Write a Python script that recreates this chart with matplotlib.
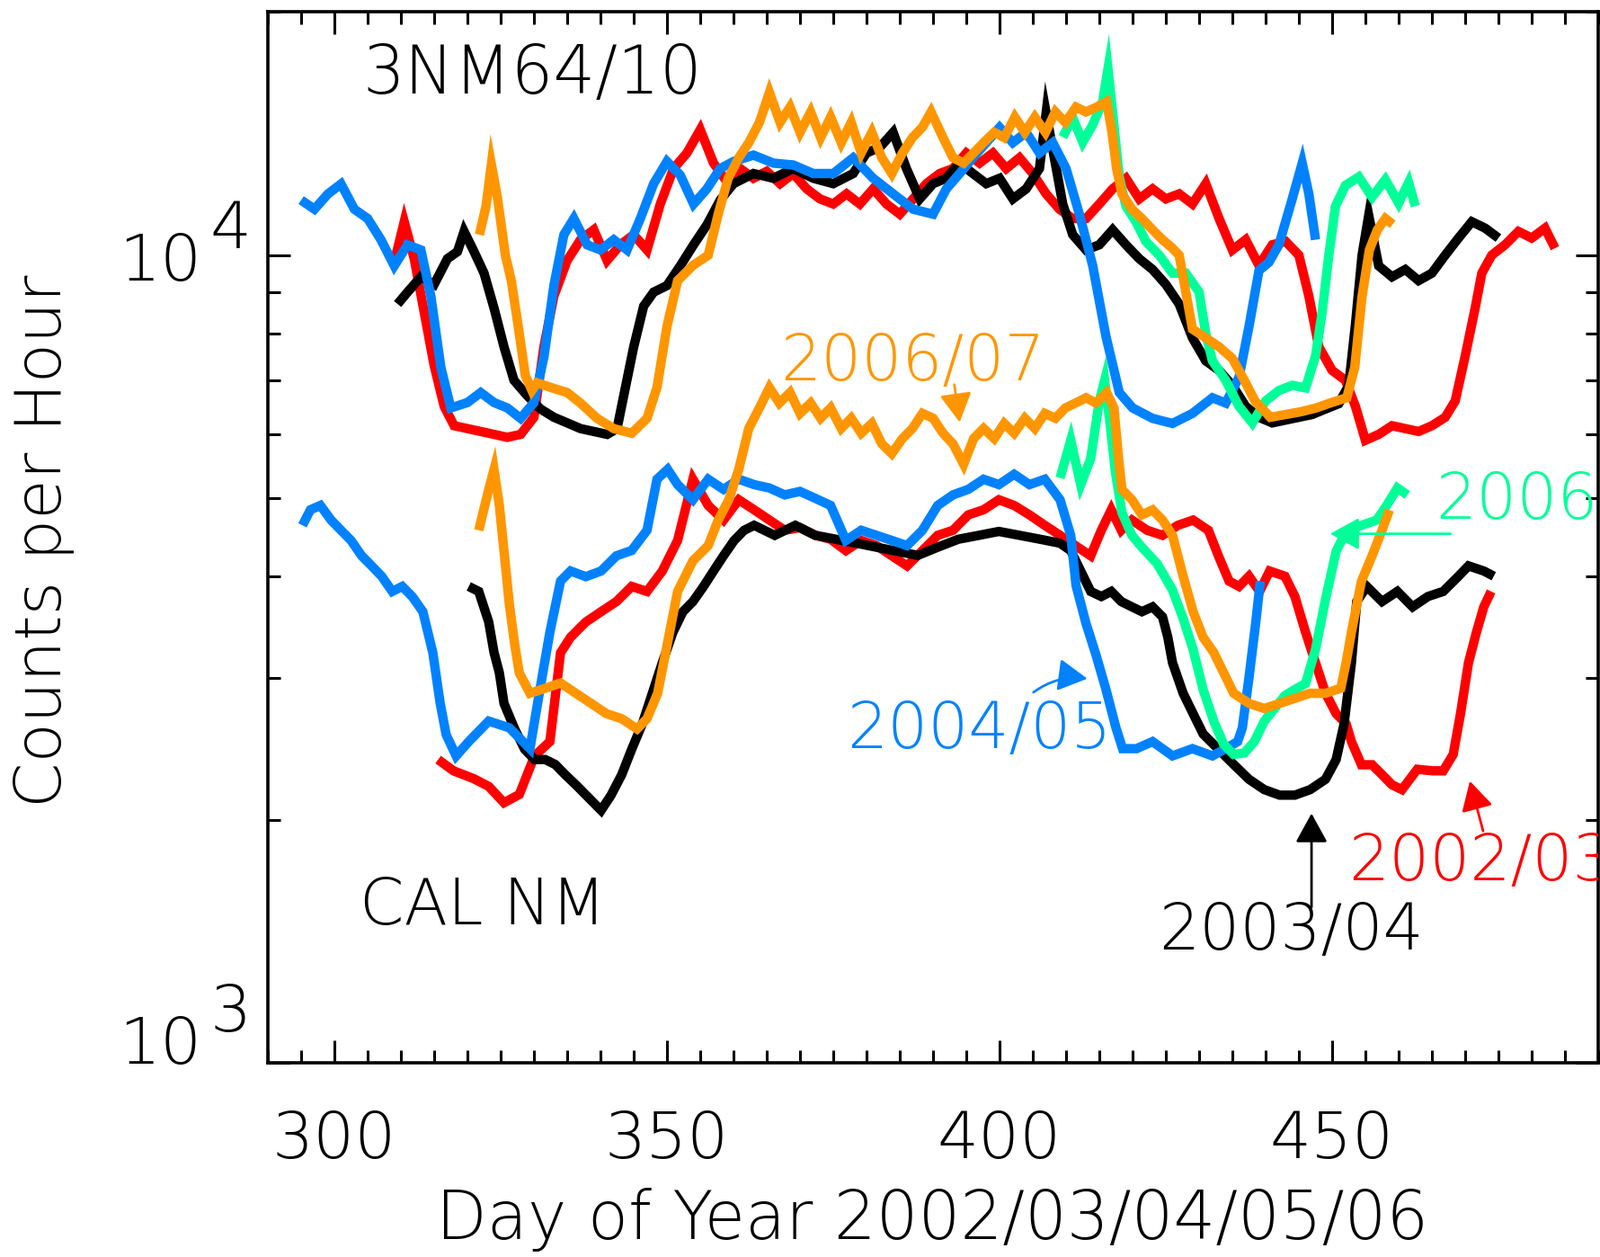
import matplotlib
matplotlib.use("Agg")
import matplotlib.pyplot as plt
from matplotlib.ticker import MultipleLocator, NullFormatter, FixedLocator, LogLocator

# ---------------- data (day of year, counts per hour) ----------------
# 3NM64/10 (upper traces)
day_nm_0203 = [309, 310.5, 312, 313.5, 315, 316.5, 318, 320, 322, 324,
               326, 328, 330, 331.5, 333, 335, 337, 339, 341, 343,
               345, 347, 349, 351, 353, 355, 357, 359, 361, 363,
               365, 367, 369, 371, 373, 375, 377, 379, 381, 383,
               385, 387, 389, 391, 393, 395, 397, 399, 401, 403,
               405, 407, 409, 411, 413, 415, 417, 419, 421, 423,
               425, 427, 429, 431, 433, 435, 437, 439, 441, 443,
               445, 446.5, 448, 450, 452, 453.5, 455, 457, 459, 461,
               463, 465, 467, 468.5, 470, 471.5, 472.5, 474, 476, 478,
               480, 482, 483.5]
cnt_nm_0203 = [9800, 11000, 9900, 8500, 7300, 6500, 6150, 6100, 6050, 6000,
               5950, 6000, 6300, 7700, 8900, 9850, 10450, 10750, 9850, 10300,
               10600, 10150, 11570, 12800, 13380, 14300, 13000, 12330, 12800, 12450,
               12700, 12260, 12620, 12080, 11740, 11570, 11910, 11570, 12080, 11570,
               11240, 11740, 12260, 12620, 12800, 13380, 13000, 13380, 12800, 13200,
               12620, 11910, 11400, 11100, 11100, 11570, 12080, 12450, 11740, 12080,
               11740, 11910, 11570, 12260, 11100, 10150, 10450, 9710, 10300, 10400,
               10000, 8900, 7700, 7200, 7000, 6500, 5900, 6000, 6150, 6100,
               6050, 6150, 6300, 6600, 7500, 8600, 9500, 10000, 10300, 10700,
               10500, 10800, 10200]

day_nm_0304 = [309.5, 311, 313, 315, 317, 318.5, 319.5, 321, 322.5, 324,
               325.5, 327, 329, 331, 333, 335, 337, 339, 341, 342.5,
               343.5, 345, 346.5, 348, 350, 352, 354, 356, 358, 360,
               363, 366, 369, 372, 375, 378, 380, 382, 384, 386,
               388, 390, 392, 394, 396, 398, 400, 402, 404, 406,
               407, 409.5, 411, 413, 415, 417, 419, 421, 423, 425,
               427, 429, 431, 433, 435, 437, 439, 441, 443, 445,
               447, 449, 451, 452.5, 453.5, 454.5, 455.5, 457, 459, 461,
               463, 465, 467, 469, 471, 473, 475]
cnt_nm_0304 = [8700, 9000, 9400, 9200, 9900, 10100, 10700, 10100, 9500, 8600,
               7700, 7000, 6700, 6450, 6300, 6200, 6100, 6050, 6000, 6100,
               6700, 7700, 8650, 9000, 9170, 9700, 10300, 10900, 11700, 12260,
               12620, 12450, 12800, 12450, 12260, 12620, 13380, 13600, 14190, 12800,
               11740, 12260, 12450, 13000, 12620, 12260, 12450, 11740, 12080, 12800,
               15000, 11570, 10600, 10150, 10300, 10750, 10300, 9900, 9600, 9200,
               8700, 7900, 7400, 7200, 6900, 6500, 6300, 6200, 6250, 6300,
               6350, 6450, 6550, 6900, 8200, 10000, 11200, 9700, 9400, 9600,
               9300, 9500, 10000, 10500, 11000, 10800, 10500]

day_nm_0405 = [295, 297, 299, 301, 303, 305, 307, 309, 311, 313,
               314.5, 316, 317.5, 320, 322, 324, 326, 328, 330, 331.5,
               333, 334.5, 336, 338, 340, 342, 344, 346, 348, 350,
               352, 354, 356, 358, 360, 363, 366, 369, 372, 375,
               378, 381, 384, 387, 390, 392, 394, 396, 398, 400,
               402, 404, 406, 408, 410, 412, 414, 416, 418, 420,
               423, 426, 429, 432, 434, 436, 437.5, 439, 440.5, 442,
               444, 445.5, 446.5, 447.5]
cnt_nm_0405 = [11700, 11400, 11900, 12250, 11400, 11100, 10450, 9700, 10300, 10150,
               8900, 7270, 6470, 6570, 6760, 6570, 6470, 6280, 6570, 7480,
               9170, 10600, 11100, 10300, 10150, 10450, 10150, 11100, 12260, 13060,
               12560, 11570, 12080, 12800, 13060, 13300, 13000, 12930, 12620, 12620,
               13200, 12450, 11910, 11400, 11240, 12080, 12620, 13200, 13780, 14390,
               13780, 14190, 13380, 13780, 12800, 11240, 9710, 7930, 6760, 6470,
               6280, 6190, 6370, 6660, 6560, 7060, 8160, 9570, 9800, 10300,
               11740, 13000, 11910, 10450]

day_nm_2006 = [409.5, 411, 412.5, 414, 415.5, 416.3, 417, 418, 419, 420.5,
               422, 424, 426, 428, 430, 431, 432, 434, 436, 438,
               440, 442, 444, 446, 447.5, 448.5, 449.5, 450.5, 452, 454,
               456, 458, 460, 461.5, 462.5]
cnt_nm_2006 = [14000, 14800, 13800, 14500, 15500, 17000, 15000, 12500, 11500, 11000,
               10400, 10000, 9500, 9500, 9000, 8000, 7400, 7000, 6500, 6200,
               6600, 6800, 6900, 6850, 7500, 8500, 10000, 11500, 12200, 12500,
               11800, 12400, 11600, 12300, 11500]

day_nm_0607 = [321.8, 322.8, 323.6, 324.5, 325.7, 326.6, 327.7, 328.7, 329.7, 330.5,
               332.5, 335, 337, 339.5, 342, 344.7, 347, 348.5, 350, 351.6,
               353.9, 356.2, 357.7, 359.2, 360.8, 362.3, 363.9, 365.4, 367, 368.5,
               370, 371.6, 373.1, 374.6, 376.2, 377.7, 379.2, 380.8, 382.3, 383.8,
               385.4, 386.9, 388.4, 389.7, 391.5, 393, 394.6, 396.1, 397.6, 399.2,
               400.7, 402.3, 403.8, 405.3, 406.9, 408.4, 409.9, 411.5, 413, 414.6,
               416.1, 416.9, 417.6, 418.4, 419.9, 421.4, 423, 424.5, 426, 427,
               428, 429, 431, 433, 435, 436.8, 438.4, 440.7, 443, 445.3,
               447.6, 449.9, 452.2, 453.4, 454.5, 455.6, 456.8, 458, 459.1]
cnt_nm_0607 = [10600, 11500, 12950, 11800, 10000, 9300, 8100, 7100, 6800, 6950,
               6860, 6760, 6560, 6280, 6100, 6020, 6280, 6860, 8160, 9300,
               9710, 10000, 11240, 12450, 13200, 13780, 14600, 15900, 14600, 15250,
               14190, 15040, 13980, 14820, 13780, 14600, 13380, 14190, 13200, 12620,
               13380, 13980, 14400, 15040, 13980, 13200, 13000, 13380, 13780, 14190,
               13980, 14820, 14190, 14820, 14190, 15040, 14600, 15250, 15040, 15250,
               15490, 14190, 12800, 11910, 11400, 11100, 10750, 10450, 10200, 10000,
               9000, 8100, 7900, 7700, 7450, 7000, 6600, 6300, 6350, 6400,
               6470, 6570, 6660, 7265, 8900, 10150, 10750, 11100, 10920]

# CAL NM (lower traces)
day_cal_0203 = [315.6, 317.9, 320.9, 323.2, 325.5, 327.8, 330.1, 332.4, 334, 335.5,
                337.8, 340.1, 342.4, 344.7, 347, 349.3, 351.6, 353.9, 356.2, 358.5,
                360.8, 363.1, 365.4, 367.7, 370, 372.3, 374.6, 376.9, 379.2, 381.5,
                383.8, 386.1, 388.4, 390.7, 393, 395.3, 397.6, 399.9, 402.2, 404.5,
                406.8, 409.1, 411.4, 413.7, 415.3, 416.8, 418.3, 419.9, 422.2, 424.5,
                426.8, 429.1, 431.4, 432.9, 434.5, 436, 437.5, 439.1, 440.6, 442.9,
                444.4, 446, 447.5, 449, 450.6, 452.1, 452.9, 454.4, 456, 457.5,
                459, 460.5, 462.8, 465.1, 466.7, 468.2, 469.3, 470.5, 471.7, 472.8,
                473.9]
cnt_cal_0203 = [2375, 2300, 2250, 2200, 2100, 2150, 2400, 2500, 3220, 3365,
                3515, 3620, 3726, 3890, 3835, 4065, 4435, 5280, 4900, 4700,
                4980, 4840, 4700, 4565, 4600, 4500, 4450, 4308, 4435, 4370,
                4245, 4125, 4308, 4500, 4565, 4770, 4840, 4980, 4900, 4770,
                4630, 4500, 4370, 4245, 4565, 4840, 4565, 4700, 4565, 4500,
                4630, 4700, 4565, 4245, 3950, 3890, 4005, 3835, 4065, 4005,
                3780, 3415, 3130, 2870, 2707, 2630, 2500, 2340, 2340, 2275,
                2210, 2180, 2310, 2300, 2300, 2410, 2707, 3130, 3415, 3670,
                3835]

day_cal_0304 = [320.2, 321.7, 323.2, 324, 324.8, 325.5, 327.1, 328.6, 330.1, 331.7,
                333.2, 334.7, 336.3, 340.1, 341.6, 343.2, 344.7, 346.3, 347.8, 349.3,
                350.9, 352.4, 353.9, 355.5, 357, 358.5, 360.1, 361.6, 363.1, 366.2,
                369.3, 372.3, 375.4, 378.5, 381.5, 384.6, 387.7, 390.7, 393.8, 396.9,
                399.9, 403, 406.1, 409.1, 410.7, 412.2, 413.7, 415.3, 416.8, 418.3,
                419.9, 421.4, 423, 424.5, 425.3, 426, 427.6, 429.1, 430.6, 432.9,
                435.2, 437.5, 439.8, 442.1, 444.4, 446.7, 449, 450.6, 451.8, 452.9,
                453.7, 455.2, 457.5, 459.8, 462.1, 464.4, 466.7, 469, 470.5, 472.8,
                474.3]
cnt_cal_0304 = [3890, 3835, 3516, 3222, 3041, 2787, 2592, 2446, 2375, 2375,
                2342, 2275, 2210, 2055, 2146, 2275, 2446, 2630, 2869, 3130,
                3415, 3620, 3726, 3890, 4065, 4245, 4435, 4565, 4630, 4500,
                4630, 4500, 4450, 4400, 4350, 4300, 4250, 4350, 4450, 4500,
                4550, 4500, 4450, 4400, 4308, 4065, 3835, 3780, 3835, 3726,
                3670, 3620, 3670, 3567, 3365, 3130, 2869, 2707, 2555, 2446,
                2342, 2245, 2180, 2146, 2146, 2180, 2245, 2375, 2630, 3130,
                3726, 3890, 3726, 3835, 3670, 3780, 3835, 4005, 4125, 4065,
                4005]

day_cal_0405 = [295.2, 296.4, 297.9, 299.5, 301, 302.5, 304.1, 305.6, 307.1, 308.7,
                310.2, 311.7, 313.3, 314.8, 315.9, 316.8, 318.3, 320.2, 323.2, 326.3,
                329.4, 330.9, 332.4, 334, 335.5, 337.8, 340.1, 342.4, 344.7, 347,
                348.5, 350.1, 351.6, 353.9, 356.2, 358.5, 360.8, 363.1, 365.4, 367.7,
                370, 372.3, 374.6, 376.9, 379.2, 381.5, 383.8, 386.1, 388.4, 390.7,
                393, 395.3, 397.6, 399.9, 402.2, 404.5, 406.8, 409.1, 410.7, 411.5,
                413, 414.5, 416, 417.5, 418.5, 420.6, 423, 426, 429, 432,
                434, 435.8, 436.5, 437.5, 438.5, 439.2]
cnt_cal_0405 = [4630, 4840, 4900, 4700, 4565, 4435, 4245, 4125, 4005, 3835,
                3890, 3780, 3620, 3220, 2790, 2550, 2400, 2500, 2650, 2600,
                2450, 2900, 3415, 3950, 4065, 4000, 4065, 4245, 4310, 4565,
                5280, 5430, 5200, 4980, 5280, 5130, 5280, 5200, 5150, 5050,
                5100, 5000, 4900, 4435, 4565, 4500, 4435, 4370, 4565, 4900,
                5050, 5130, 5280, 5200, 5355, 5200, 5280, 4980, 4500, 3900,
                3500, 3200, 2900, 2600, 2450, 2450, 2500, 2400, 2450, 2400,
                2450, 2500, 2600, 3000, 3500, 3950]

day_cal_2006 = [409.1, 410.7, 412.2, 413.7, 415, 415.8, 416.6, 417.4, 418.4, 419.9,
                421.4, 423.7, 426, 427.6, 429.1, 430.6, 432.2, 433.7, 435.2, 436.8,
                438.3, 439.8, 441.4, 442.9, 444.4, 446, 447.5, 449, 450.6, 452.1,
                454.4, 456.7, 458.2, 459.8, 461.3]
cnt_cal_2006 = [5300, 5900, 5200, 5600, 6600, 7000, 6200, 5400, 4800, 4500,
                4350, 4150, 3850, 3550, 3250, 2900, 2650, 2480, 2410, 2420,
                2500, 2650, 2750, 2850, 2900, 2950, 3250, 3750, 4300, 4550,
                4630, 4700, 4900, 5150, 5050]

day_cal_0607 = [321.7, 323.2, 324, 324.8, 325.5, 326.3, 327.1, 327.8, 329.4, 331.7,
                334, 336.3, 338.6, 340.9, 343.2, 345.5, 347, 348.6, 350.1, 351.6,
                353.9, 356.2, 357.7, 359.3, 360.8, 362.3, 363.9, 365.4, 366.9, 368.5,
                370, 371.6, 373.1, 374.6, 376.2, 377.7, 379.2, 380.8, 382.3, 383.8,
                385.4, 386.9, 388.4, 390, 391.5, 393, 394.6, 396.1, 397.6, 399.2,
                400.7, 402.2, 403.8, 405.3, 406.8, 408.4, 409.9, 411.4, 413, 414.5,
                416.1, 417.2, 417.9, 418.4, 419.9, 421.4, 423, 424.5, 426, 427.6,
                429.1, 430.6, 432.2, 433.7, 435.2, 437.5, 439.8, 442.1, 444.4, 446.7,
                449, 451.3, 452.1, 452.9, 454.4, 456, 457.5, 458.6]
cnt_cal_0607 = [4565, 5128, 5430, 4900, 4300, 3700, 3300, 3040, 2869, 2910,
                2954, 2869, 2787, 2707, 2668, 2592, 2668, 2869, 3317, 3835,
                4185, 4370, 4700, 4981, 5434, 6103, 6470, 6855, 6560, 6760,
                6370, 6560, 6283, 6470, 6103, 6283, 6020, 6190, 5840, 5680,
                5929, 6103, 6370, 6283, 6020, 5840, 5510, 5929, 6103, 5929,
                6190, 6020, 6283, 6103, 6370, 6283, 6470, 6560, 6660, 6560,
                6760, 6470, 5594, 5128, 4981, 4770, 4838, 4700, 4500, 4005,
                3620, 3365, 3222, 3041, 2869, 2787, 2747, 2787, 2828, 2869,
                2869, 2911, 3130, 3415, 3948, 4245, 4565, 4838]

x_ticks = [300, 350, 400, 450]
x_ticklabels = ["300", "350", "400", "450"]

# ---------------- style ----------------
RED = "#FF0000"
BLACK = "#000000"
BLUE = "#0082FF"
GREEN = "#00FF98"
ORANGE = "#FF9600"

plt.rcParams['font.family'] = ['DejaVu Sans']
plt.rcParams['font.weight'] = 'light'

fig = plt.figure(figsize=(17.8, 13.98), dpi=100)
ax = fig.add_axes([298 / 1780, 1 - 1182.3 / 1398, 1480 / 1780, 1169 / 1398])
ax.set_yscale('log')
ax.set_xlim(290, 490)
ax.set_ylim(1000, 20000)

LW = 7.5
traces = [
    (day_nm_0203, cnt_nm_0203, RED), (day_cal_0203, cnt_cal_0203, RED),
    (day_nm_0304, cnt_nm_0304, BLACK), (day_cal_0304, cnt_cal_0304, BLACK),
    (day_nm_0405, cnt_nm_0405, BLUE), (day_cal_0405, cnt_cal_0405, BLUE),
    (day_nm_2006, cnt_nm_2006, GREEN), (day_cal_2006, cnt_cal_2006, GREEN),
    (day_nm_0607, cnt_nm_0607, ORANGE), (day_cal_0607, cnt_cal_0607, ORANGE),
]
for d, c, col in traces:
    ax.plot(d, c, color=col, lw=LW, solid_joinstyle='miter', solid_capstyle='butt')

# axes / ticks
for s in ax.spines.values():
    s.set_linewidth(2.6)
ax.xaxis.set_major_locator(FixedLocator(x_ticks))
ax.set_xticklabels(x_ticklabels)
ax.xaxis.set_minor_locator(MultipleLocator(5))
ax.yaxis.set_major_locator(FixedLocator([1e3, 1e4]))
ax.yaxis.set_minor_locator(LogLocator(base=10, subs=range(2, 10)))
ax.yaxis.set_major_formatter(NullFormatter())
ax.yaxis.set_minor_formatter(NullFormatter())
ax.tick_params(which='both', direction='in', top=True, right=True, width=2.2)
ax.tick_params(which='major', length=18)
ax.tick_params(which='minor', length=10)
ax.tick_params(axis='x', which='major', labelsize=52, pad=37)

FS = 51
# y tick labels (10^3, 10^4) with full-size raised exponent
for val, base_dy, exp_dy, exp in [(1e4, -20.2, 5.8, "4"), (1e3, -0.7, 25.2, "3")]:
    ax.annotate("10", xy=(0, val), xycoords=('axes fraction', 'data'),
                xytext=(-53.5, base_dy), textcoords='offset points',
                ha='right', va='baseline', fontsize=52, annotation_clip=False)
    ax.annotate(exp, xy=(0, val), xycoords=('axes fraction', 'data'),
                xytext=(-46.8, exp_dy), textcoords='offset points',
                ha='left', va='baseline', fontsize=52, annotation_clip=False)

fig.text(49 / 1780, 1 - 602 / 1398, "Counts per Hour", rotation=90,
         ha='center', va='center', fontsize=52)
fig.text(1037 / 1780, 1 - 1378 / 1398, "Day of Year 2002/03/04/05/06",
         ha='center', va='baseline', fontsize=53)

# station labels
ax.text(0.0709, 0.9224, "3NM64/10", transform=ax.transAxes, fontsize=FS + 2,
        ha='left', va='baseline', color=BLACK)
ax.text(0.0689, 0.132, "CAL NM", transform=ax.transAxes, fontsize=FS,
        ha='left', va='baseline', color=BLACK)

# season labels
ax.text(0.385, 0.6495, "2006/07", transform=ax.transAxes, fontsize=FS,
        ha='left', va='baseline', color=ORANGE)
ax.text(0.435, 0.2997, "2004/05", transform=ax.transAxes, fontsize=FS,
        ha='left', va='baseline', color=BLUE)
ax.text(0.8777, 0.5178, "2006", transform=ax.transAxes, fontsize=FS,
        ha='left', va='baseline', color=GREEN)
ax.text(0.8122, 0.1739, "2002/03", transform=ax.transAxes, fontsize=FS,
        ha='left', va='baseline', color=RED, clip_on=True)
ax.text(0.6696, 0.108, "2003/04", transform=ax.transAxes, fontsize=FS,
        ha='left', va='baseline', color=BLACK)

def arrow(tail, tip, col, rad=0.0):
    ax.annotate("", xy=tip, xytext=tail, xycoords='data', textcoords='data',
                arrowprops=dict(arrowstyle='-|>,head_length=1.0,head_width=0.55',
                                mutation_scale=20, color=col, lw=2.0,
                                shrinkA=0, shrinkB=0,
                                connectionstyle=f'arc3,rad={rad}'))

arrow((393.2, 6914), (394.0, 6210), ORANGE)
arrow((405.1, 2877), (413.2, 2991), BLUE, rad=-0.2)
arrow((467.8, 4520), (449.7, 4520), GREEN)
arrow((446.9, 1560), (446.9, 2037), BLACK)
arrow((472.7, 1937), (470.7, 2234), RED)

fig.savefig("out.png", dpi=100)
